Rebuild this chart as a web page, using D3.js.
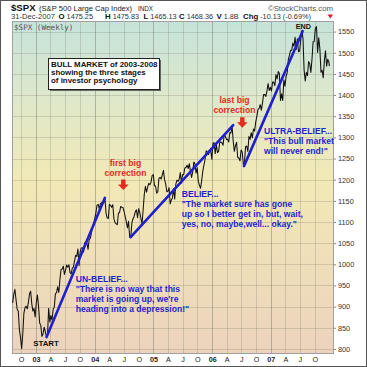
<!DOCTYPE html>
<html>
<head>
<meta charset="utf-8">
<script src="https://cdn.jsdelivr.net/npm/d3@7"></script>
<style>
  html, body { margin: 0; padding: 0; background: #fff; }
  svg { display: block; font-family: "Liberation Sans", Arial, sans-serif; }
</style>
</head>
<body>
<div id="chart"></div>
<script>
// weekly closes of $SPX (Friday closes)
const spx2002 = [908.6, 928.8, 940.9, 916.1, 893.9, 889.8, 845.4, 827.4, 800.6, 835.3, 884.4,
  897.7, 901.0, 894.7, 909.8, 930.6, 936.3, 906.6, 889.5, 895.8, 875.4];
const spx2003 = [908.6, 927.6, 901.8, 861.4, 855.7, 829.7, 834.9, 851.2, 841.2, 828.9, 833.3,
  895.8, 863.5, 878.9, 868.3, 893.6, 898.8, 930.1, 933.4, 946.7, 933.2, 963.6, 987.8, 988.6,
  995.7, 976.2, 985.7, 998.1, 993.3, 998.7, 980.2, 977.6, 990.7, 993.1, 1008.0, 1021.4, 1018.6,
  1036.3, 996.9, 1029.9, 1038.7, 1039.3, 1028.9, 1050.7, 1053.2, 1050.4, 1035.3, 1058.2, 1061.5,
  1074.1, 1088.7, 1095.9];
const spx2004 = [1108.5, 1121.9, 1139.8, 1141.6, 1131.1, 1142.8, 1145.8, 1144.1, 1144.9, 1156.9,
  1120.6, 1109.8, 1108.1, 1141.8, 1139.3, 1134.6, 1140.6, 1107.3, 1098.7, 1095.7, 1093.6, 1120.7,
  1122.5, 1136.5, 1135.0, 1134.4, 1125.4, 1112.8, 1101.4, 1086.2, 1101.7, 1064.0, 1064.8, 1098.6,
  1107.8, 1113.6, 1123.9, 1128.6, 1110.1, 1131.5, 1122.1, 1108.2, 1095.2, 1130.2, 1166.2, 1184.2,
  1170.3, 1182.7, 1191.2, 1188.0, 1194.2, 1210.1, 1211.9];
const spx2005 = [1186.2, 1184.5, 1167.9, 1171.4, 1203.0, 1205.3, 1201.6, 1211.4, 1222.1, 1200.1,
  1190.2, 1171.4, 1172.9, 1181.2, 1142.6, 1152.1, 1156.9, 1178.8, 1154.1, 1189.3, 1198.8, 1196.0,
  1200.9, 1217.0, 1191.6, 1211.9, 1211.9, 1227.9, 1229.0, 1234.2, 1226.4, 1237.8, 1219.7, 1205.1,
  1218.0, 1241.5, 1237.9, 1215.3, 1228.8, 1195.9, 1186.6, 1179.6, 1198.4, 1220.1, 1234.7, 1248.3,
  1268.3, 1265.1, 1259.4, 1267.3, 1268.7, 1248.3];
const spx2006 = [1285.5, 1287.6, 1261.5, 1283.7, 1264.0, 1267.0, 1287.2, 1289.4, 1287.2, 1281.4,
  1307.3, 1302.9, 1294.9, 1295.5, 1289.1, 1311.3, 1310.6, 1325.8, 1291.2, 1267.0, 1280.2, 1288.2,
  1252.3, 1251.5, 1244.5, 1270.2, 1265.5, 1236.2, 1240.3, 1278.6, 1279.4, 1266.7, 1302.3, 1295.1,
  1311.0, 1298.9, 1319.7, 1314.8, 1335.9, 1349.6, 1365.6, 1368.6, 1377.3, 1364.3, 1380.9, 1401.2,
  1401.0, 1396.7, 1409.8, 1427.1, 1410.8, 1418.3];
const spx2007 = [1409.7, 1430.7, 1430.5, 1422.2, 1448.4, 1438.1, 1455.5, 1451.2, 1387.2, 1402.8,
  1387.0, 1436.1, 1420.9, 1443.8, 1452.9, 1484.4, 1494.1, 1505.6, 1505.9, 1522.8, 1515.7, 1536.3,
  1507.7, 1532.9, 1502.6, 1503.4, 1530.4, 1552.5, 1534.1, 1459.0, 1433.1, 1453.6, 1445.9, 1479.4,
  1474.0, 1453.6, 1484.3, 1525.8, 1526.8, 1557.6, 1561.8, 1500.6, 1535.3, 1509.7, 1453.7, 1458.7,
  1440.7, 1481.1, 1504.7, 1468.0, 1484.5, 1478.5, 1468.4];

// the three stage trend lines [date, price]
const trendStart = [["2003-03-08", 828], ["2004-08-12", 1064], ["2006-07-18", 1232]];
const trendEnd = [["2004-03-05", 1157], ["2006-05-12", 1329], ["2007-07-18", 1551]];

const yTicks = [800, 850, 900, 950, 1000, 1050, 1100, 1150, 1200, 1250, 1300, 1350, 1400, 1450, 1500, 1550];
const monthLetters = ["", "", "", "A", "", "", "J", "", "", "O", "", ""];

const quoteLabels = ["O", "H", "L", "C", "V", "Chg"];
const quoteValues = ["1475.25", "1475.83", "1465.13", "1468.36", "1.8B", "-10.13 (-0.69%)"];

const W = 367, H = 367;
const plot = { left: 12, right: 334, top: 21, bottom: 354 };
const blue = "#1f1fd2", red = "#e62a1e";

const parse = d3.timeParse("%Y-%m-%d");

// weekly dates: Fridays plus the last trading day
const dates = d3.timeFriday.range(new Date(2002, 7, 9), new Date(2007, 11, 29));
dates.push(new Date(2007, 11, 31));
const closes = [].concat(spx2002, spx2003, spx2004, spx2005, spx2006, spx2007);
const data = dates.map((d, i) => ({ date: d, close: closes[i] }));

const x = d3.scaleTime()
  .domain([new Date(2002, 7, 5), new Date(2008, 0, 29)])
  .range([plot.left, plot.right]);

const y = d3.scaleLinear()
  .domain([788, 1575])
  .range([plot.bottom, plot.top]);

const svg = d3.select("#chart").append("svg")
  .attr("width", W)
  .attr("height", H);

// background gradient of the price panel
const grad = svg.append("defs").append("linearGradient")
  .attr("id", "bg").attr("x1", 0).attr("y1", 0).attr("x2", 0).attr("y2", 1);
grad.append("stop").attr("offset", "0%").attr("stop-color", "#c5e3da");
grad.append("stop").attr("offset", "22%").attr("stop-color", "#dde8cc");
grad.append("stop").attr("offset", "48%").attr("stop-color", "#f2e9b6");
grad.append("stop").attr("offset", "100%").attr("stop-color", "#ecd3bd");

svg.append("rect")
  .attr("x", 0.5).attr("y", 0.5)
  .attr("width", W - 1).attr("height", H - 1)
  .attr("fill", "#fff").attr("stroke", "#555");

svg.append("rect")
  .attr("x", plot.left).attr("y", plot.top)
  .attr("width", plot.right - plot.left)
  .attr("height", plot.bottom - plot.top)
  .attr("fill", "url(#bg)");

// grid
const quarters = d3.timeMonth.range(new Date(2002, 9, 1), new Date(2008, 0, 1), 3);

svg.append("g")
  .selectAll("line")
  .data(yTicks)
  .enter().append("line")
  .attr("x1", plot.left).attr("x2", plot.right)
  .attr("y1", d => Math.round(y(d)) + 0.5)
  .attr("y2", d => Math.round(y(d)) + 0.5)
  .attr("stroke", "#7d7d70").attr("stroke-opacity", 0.28);

svg.append("g")
  .selectAll("line")
  .data(quarters)
  .enter().append("line")
  .attr("x1", d => Math.round(x(d)) + 0.5)
  .attr("x2", d => Math.round(x(d)) + 0.5)
  .attr("y1", plot.top).attr("y2", plot.bottom)
  .attr("stroke", "#7d7d70")
  .attr("stroke-opacity", d => d.getMonth() === 0 ? 0.5 : 0.28);

svg.append("rect")
  .attr("x", plot.left + 0.5).attr("y", plot.top + 0.5)
  .attr("width", plot.right - plot.left - 1)
  .attr("height", plot.bottom - plot.top - 1)
  .attr("fill", "none").attr("stroke", "#a0a0a0");

// right axis
const yAxis = svg.append("g")
  .attr("transform", "translate(" + plot.right + ",0)")
  .call(d3.axisRight(y).tickValues(yTicks).tickSize(2).tickPadding(2).tickFormat(d3.format("d")));
yAxis.select(".domain").remove();
yAxis.selectAll("line").attr("stroke", "#888");
yAxis.selectAll("text")
  .attr("font-family", "Liberation Sans, Arial, sans-serif")
  .attr("font-size", 7.3).attr("fill", "#333");

// bottom axis
const xAxis = svg.append("g")
  .attr("transform", "translate(0," + plot.bottom + ")")
  .call(d3.axisBottom(x).tickValues(quarters).tickSize(0).tickPadding(3)
    .tickFormat(d => d.getMonth() === 0 ? d3.timeFormat("%y")(d) : monthLetters[d.getMonth()]));
xAxis.select(".domain").remove();
xAxis.selectAll("text")
  .attr("font-family", "Liberation Sans, Arial, sans-serif")
  .attr("font-size", 7.2).attr("fill", "#222")
  .attr("font-weight", d => d.getMonth() === 0 ? "bold" : "normal");

// price line
const line = d3.line()
  .x(d => x(d.date))
  .y(d => y(d.close));

svg.append("path")
  .datum(data)
  .attr("d", line)
  .attr("fill", "none")
  .attr("stroke", "#111")
  .attr("stroke-width", 1.05)
  .attr("stroke-linejoin", "round");

// trend lines
svg.append("g")
  .selectAll("line")
  .data(trendStart.map((s, i) => [s, trendEnd[i]]))
  .enter().append("line")
  .attr("x1", d => x(parse(d[0][0])))
  .attr("y1", d => y(d[0][1]))
  .attr("x2", d => x(parse(d[1][0])))
  .attr("y2", d => y(d[1][1]))
  .attr("stroke", blue)
  .attr("stroke-width", 2.6)
  .attr("stroke-linecap", "round");

// header
const hdr = svg.append("g").attr("font-family", "Liberation Sans, Arial, sans-serif");
hdr.append("text").attr("x", 11).attr("y", 10.5)
  .attr("font-size", 9.6).attr("font-weight", "bold").attr("fill", "#111").text("$SPX");
hdr.append("text").attr("x", 39).attr("y", 10.5)
  .attr("font-size", 7.6).attr("fill", "#222").text("(S&P 500 Large Cap Index)");
hdr.append("text").attr("x", 138).attr("y", 10.5)
  .attr("font-size", 6.3).attr("fill", "#222").text("INDX");
hdr.append("text").attr("x", 333).attr("y", 10.5).attr("text-anchor", "end")
  .attr("font-size", 7.8).attr("fill", "#555").text("\u00a9StockCharts.com");

hdr.append("text").attr("x", 11).attr("y", 19)
  .attr("font-size", 7.6).attr("fill", "#333").text("31-Dec-2007");
const quoteX = [58.5, 105, 143.5, 179, 216.5, 243];
quoteLabels.forEach((lab, i) => {
  const t = hdr.append("text").attr("x", quoteX[i]).attr("y", 19).attr("fill", "#333");
  t.append("tspan").attr("font-size", 7.8).attr("font-weight", "bold").attr("fill", "#111").text(lab);
  t.append("tspan").attr("dx", 2).attr("font-size", 7.3).text(quoteValues[i]);
});
hdr.append("path")
  .attr("d", "M327.5,14.5 L333,14.5 L330.25,18.5 Z")
  .attr("fill", "#d2202a");

svg.append("text").attr("x", 14).attr("y", 30)
  .attr("font-family", "DejaVu Sans Mono, monospace")
  .attr("font-size", 7.6).attr("fill", "#555").text("$SPX (Weekly)");

// annotations
const ann = svg.append("g")
  .attr("font-family", "Liberation Sans, Arial, sans-serif")
  .attr("font-weight", "bold");

function block(lines, x0, y0, lh, size, color, anchor) {
  lines.forEach((t, i) => {
    ann.append("text")
      .attr("x", x0).attr("y", y0 + i * lh)
      .attr("font-size", size).attr("fill", color)
      .attr("text-anchor", anchor || "start")
      .text(t);
  });
}

// title box
ann.append("rect").attr("x", 50).attr("y", 60).attr("width", 111).attr("height", 31)
  .attr("fill", "#666");
ann.append("rect").attr("x", 48.5).attr("y", 58.5).attr("width", 111).attr("height", 31)
  .attr("fill", "#fff").attr("stroke", "#222");
block(["BULL MARKET of 2003-2008", "showing the three stages", "of investor psychology"],
  51, 66.8, 8.1, 7.9, "#111");

block(["first big", "correction"], 125.5, 166, 10, 8.6, red, "middle");
block(["last big", "correction"], 234.5, 103.3, 10, 8.6, red, "middle");

function arrow(cx, top) {
  ann.append("path")
    .attr("d", `M${cx - 2.2},${top} L${cx + 2.2},${top} L${cx + 2.2},${top + 5}` +
      ` L${cx + 5.3},${top + 5} L${cx},${top + 10.5} L${cx - 5.3},${top + 5}` +
      ` L${cx - 2.2},${top + 5} Z`)
    .attr("fill", red);
}
arrow(123.3, 179.5);
arrow(242.3, 117.3);

block(["UN-BELIEF...", "\"There is no way that this", "market is going up, we're",
  "heading into a depression!\""], 75.7, 281.5, 10.2, 8.6, blue);
block(["BELIEF...", "\"The market sure has gone", "up so I better get in, but, wait,",
  "yes, no, maybe,well... okay.\""], 181.7, 197.3, 10, 8.6, blue);
block(["ULTRA-BELIEF...", "\"This bull market", "will never end!\""], 264, 134, 10, 8.6, blue);

block(["START"], 46, 346, 0, 7.9, "#111", "middle");
block(["END"], 303.3, 29.3, 0, 7.2, "#111", "middle");
</script>
</body>
</html>
